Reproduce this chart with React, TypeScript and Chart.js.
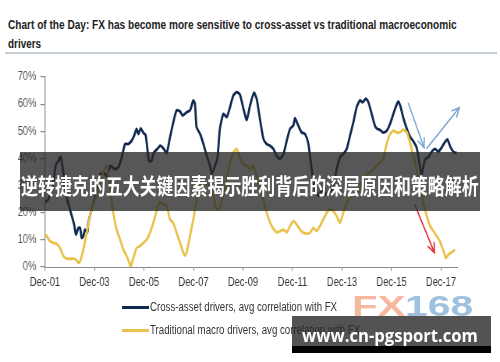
import React, { useEffect, useLayoutEffect, useRef, useState } from 'react';
import { Chart, registerables } from 'chart.js';

Chart.register(...registerables);

// ---------- text ----------
const TITLE_LINE1 = 'Chart of the Day: FX has become more sensitive to cross-asset vs traditional macroeconomic';
const TITLE_LINE2 = 'drivers';
const BANNER_TEXT = '逆转捷克的五大关键因素揭示胜利背后的深层原因和策略解析';
const WATERMARK_LEFT = 'FX';
const WATERMARK_RIGHT = '168';
const SITE_TEXT = 'www.cn-pgsport.com';

// ---------- axes ----------
// x values are months since Dec-01
const xTickLabels = ['Dec-01', 'Dec-03', 'Dec-05', 'Dec-07', 'Dec-09', 'Dec-11', 'Dec-13', 'Dec-15', 'Dec-17'];
const xMonthsPerTick = 24;
const xMax = 200;
const yMin = 0;
const yMax = 70;
const yStep = 10;

const seriesLabels = [
  'Cross-asset drivers, avg correlation with FX',
  'Traditional macro drivers, avg correlation with FX',
];

// ---------- series: cross-asset (navy) ----------
const navyMonths = [
  0, 1.6, 4.0, 5.2, 6.5, 7.6, 8.9, 10.0, 12.1, 14.1,
  15.0, 16.2, 17.0, 17.8, 18.6, 19.4, 20.5, 21.0, 22.6, 25.1,
  26.7, 28.3, 29.9, 31.8, 33.9, 35.6, 37.2, 38.8, 40.4, 42.0,
  43.2, 44.4, 45.3, 46.4, 47.7, 48.8, 50.4, 51.7, 52.8, 54.5,
  55.8, 57.4, 59.0, 60.6, 62.2, 63.8, 65.5, 66.7, 68.7, 70.3,
  71.1, 71.9, 72.7, 73.5, 75.2, 76.8, 78.4, 80.0, 80.8, 82.4,
  83.6, 84.8, 86.5, 88.1, 89.7, 91.3, 92.9, 94.5, 96.2, 97.8,
  99.4, 101.3, 102.6, 104.2, 105.9, 107.5, 109.1, 110.7, 112.3, 113.9,
  115.6, 117.2, 118.8, 120.4, 121.2, 122.8, 124.4, 126.1, 127.7, 129.3,
  130.9, 132.5, 134.1, 136.6, 138.2, 139.8, 141.4, 143.0, 144.6, 146.3,
  147.9, 149.5, 151.1, 152.7, 154.0, 155.6, 156.8, 158.4, 160.0, 161.1,
  162.4, 164.0, 165.7, 167.3, 168.9, 170.5, 171.3, 172.4, 173.7, 175.4,
  177.0, 178.6, 180.2, 181.8, 182.6, 184.2, 185.9, 187.5, 189.1, 190.7,
  192.3, 193.9, 195.1, 196.7, 198.3, 199.6,
];
const navyValues = [
  23.7, 24.9, 30.5, 37.5, 39.1, 40.6, 34.8, 27.4, 21.2, 15.7,
  12.0, 14.4, 14.4, 10.7, 11.4, 13.8, 12.8, 16.3, 21.2, 28.0,
  34.2, 34.8, 33.6, 37.3, 36.0, 36.7, 40.4, 45.3, 45.3, 46.5,
  48.4, 50.9, 49.0, 51.1, 49.4, 48.6, 39.1, 39.1, 42.2, 43.5,
  44.7, 43.7, 42.0, 47.8, 53.3, 57.7, 57.3, 55.8, 57.0, 57.7,
  59.5, 61.4, 60.1, 51.5, 49.0, 45.3, 41.0, 37.3, 34.2, 37.3,
  40.0, 50.9, 56.4, 55.2, 58.9, 63.2, 64.4, 63.5, 58.3, 54.2,
  59.5, 64.2, 62.0, 54.6, 47.2, 45.3, 44.7, 43.5, 41.0, 39.8,
  41.6, 46.5, 50.9, 52.1, 54.8, 52.1, 49.6, 49.0, 45.3, 36.0,
  28.6, 26.2, 28.0, 26.8, 27.4, 29.9, 36.0, 40.4, 41.6, 43.5,
  48.4, 53.3, 58.9, 61.4, 60.7, 62.0, 60.7, 56.4, 52.0, 50.9,
  50.5, 49.5, 50.2, 52.7, 56.4, 59.8, 61.0, 59.0, 55.0, 51.0,
  48.0, 46.3, 44.0, 37.0, 34.0, 39.5, 40.5, 42.5, 43.5, 42.5,
  44.0, 46.0, 47.0, 44.0, 42.2, 42.0,
];

// ---------- series: traditional macro (gold) ----------
const goldMonths = [
  0, 0.8, 2.4, 4.0, 5.7, 7.3, 8.9, 10.5, 12.1, 13.7,
  15.0, 16.2, 17.0, 17.8, 18.6, 20.2, 21.8, 23.4, 25.1, 26.7,
  28.3, 29.9, 30.7, 31.8, 33.1, 34.7, 36.4, 38.0, 39.6, 40.9,
  41.5, 42.8, 44.4, 46.1, 47.7, 49.3, 50.9, 52.5, 54.1, 55.4,
  57.1, 59.0, 60.6, 62.2, 63.8, 65.5, 67.1, 67.9, 69.0, 70.3,
  71.9, 73.5, 75.2, 76.8, 78.4, 80.0, 81.6, 83.2, 84.8, 86.5,
  88.1, 89.7, 91.3, 92.9, 94.5, 96.2, 97.8, 99.4, 101.0, 102.6,
  104.2, 105.9, 107.5, 109.9, 112.3, 113.9, 115.6, 117.2, 118.8, 120.4,
  122.0, 123.6, 125.3, 126.9, 128.5, 130.1, 131.7, 133.3, 134.9, 136.6,
  138.2, 139.8, 141.4, 143.0, 144.6, 146.3, 147.9, 149.5, 151.1, 152.7,
  154.3, 156.0, 157.6, 159.2, 160.8, 162.4, 164.0, 165.7, 167.3, 168.9,
  170.5, 172.1, 173.7, 175.4, 177.0, 178.6, 180.2, 181.8, 183.4, 185.1,
  186.7, 188.3, 189.9, 191.5, 192.3, 193.5, 194.4, 195.6, 197.2, 198.8,
];
const goldValues = [
  12.0, 11.4, 9.5, 8.9, 8.5, 7.0, 4.0, 3.1, 3.0, 3.1,
  2.7, 1.5, 2.1, 4.0, 6.4, 12.6, 18.8, 23.1, 26.2, 31.7,
  35.4, 37.3, 34.2, 27.4, 20.0, 13.8, 10.1, 6.4, 4.0, 1.5,
  0.0, 3.3, 7.0, 7.7, 8.9, 10.1, 12.6, 16.3, 20.6, 23.7,
  23.1, 22.5, 17.5, 16.3, 12.6, 8.9, 5.2, 4.2, 6.4, 11.4,
  17.5, 24.9, 30.5, 31.1, 30.5, 29.9, 26.2, 21.2, 21.9, 26.8,
  32.3, 38.5, 42.2, 43.5, 40.4, 37.9, 37.3, 36.0, 37.3, 33.6,
  29.9, 24.9, 20.0, 15.1, 12.8, 13.2, 13.8, 12.8, 15.1, 16.9,
  15.7, 13.8, 12.6, 12.3, 12.6, 14.4, 13.2, 15.1, 17.5, 20.0,
  21.2, 20.6, 18.8, 16.3, 20.0, 23.7, 25.6, 26.8, 26.2, 29.3,
  32.3, 34.2, 34.8, 36.0, 37.3, 38.5, 40.0, 45.5, 49.0, 50.2,
  49.6, 49.6, 50.6, 49.6, 45.9, 41.0, 36.0, 29.9, 23.7, 18.8,
  15.1, 13.2, 11.4, 9.5, 7.7, 5.2, 3.3, 4.6, 5.4, 6.4,
];

// ---------- annotation arrows (month, value) ----------
const arrowFrom = [[176.2, 60.3], [185.1, 43.7], [179.4, 22.8]];
const arrowTo = [[183.8, 44.0], [200.9, 58.7], [188.8, 5.3]];

// ---------- styles ----------
const NAVY = '#10294f';
const GOLD = '#e8c24a';
const AXIS = '#8a8a8a';
const ARROW_COLORS = ['#7ba3d3', '#7ba3d3', '#e1262c'];
const FONT = '"Liberation Sans", Arial, Helvetica, sans-serif';
const CHART_SCALE = 0.78;
const INNER_W = 500 / CHART_SCALE;

const arrowPlugin = {
  id: 'arrowNotes',
  afterDatasetsDraw(chart: any) {
    const { ctx, scales } = chart;
    const xs = scales.x;
    const ys = scales.y;
    ctx.save();
    ctx.lineWidth = 1.6;
    ctx.lineCap = 'round';
    arrowFrom.forEach((f, i) => {
      const t = arrowTo[i];
      const x0 = xs.getPixelForValue(f[0]);
      const y0 = ys.getPixelForValue(f[1]);
      const x1 = xs.getPixelForValue(t[0]);
      const y1 = ys.getPixelForValue(t[1]);
      ctx.strokeStyle = ARROW_COLORS[i];
      ctx.beginPath();
      ctx.moveTo(x0, y0);
      ctx.lineTo(x1, y1);
      ctx.stroke();
      const a = Math.atan2(y1 - y0, x1 - x0);
      const L = 10;
      ctx.beginPath();
      ctx.moveTo(x1 - L * Math.cos(a - 0.45), y1 - L * Math.sin(a - 0.45));
      ctx.lineTo(x1, y1);
      ctx.lineTo(x1 - L * Math.cos(a + 0.45), y1 - L * Math.sin(a + 0.45));
      ctx.stroke();
    });
    ctx.restore();
  },
};

function FitText(props: { text: string; target: number; style: React.CSSProperties }) {
  const ref = useRef<HTMLSpanElement>(null);
  const [k, setK] = useState(1);
  useLayoutEffect(() => {
    const el = ref.current;
    if (el && el.offsetWidth > 0) setK(props.target / el.offsetWidth);
  }, [props.text, props.target]);
  return (
    <span
      ref={ref}
      style={{
        position: 'absolute',
        whiteSpace: 'nowrap',
        display: 'inline-block',
        transform: `scaleX(${k})`,
        transformOrigin: '0 0',
        ...props.style,
      }}
    >
      {props.text}
    </span>
  );
}

function LineChart() {
  const canvasRef = useRef<HTMLCanvasElement>(null);
  useEffect(() => {
    if (!canvasRef.current) return;
    const chart = new Chart(canvasRef.current, {
      type: 'line',
      data: {
        datasets: [
          {
            label: seriesLabels[1],
            data: goldMonths.map((m, i) => ({ x: m, y: goldValues[i] })),
            borderColor: GOLD,
            backgroundColor: GOLD,
            borderWidth: 2.8,
            pointRadius: 0,
            tension: 0.2,
            order: 0,
          },
          {
            label: seriesLabels[0],
            data: navyMonths.map((m, i) => ({ x: m, y: navyValues[i] })),
            borderColor: NAVY,
            backgroundColor: NAVY,
            borderWidth: 2.8,
            pointRadius: 0,
            tension: 0.2,
            order: 1,
          },
        ],
      },
      options: {
        animation: false,
        responsive: true,
        maintainAspectRatio: false,
        events: [],
        layout: { padding: { left: 0, right: INNER_W - 457.5 / CHART_SCALE, top: 77, bottom: 65 } },
        plugins: { legend: { display: false }, tooltip: { enabled: false }, title: { display: false } },
        scales: {
          x: {
            type: 'linear',
            min: 0,
            max: xMax,
            afterFit: (s: any) => {
              s.height = 30;
            },
            afterBuildTicks: (s: any) => {
              s.ticks = xTickLabels.map((_, i) => ({ value: i * xMonthsPerTick }));
            },
            ticks: {
              autoSkip: false,
              maxRotation: 0,
              padding: 4,
              color: '#333',
              font: { family: FONT, size: 12 },
              callback: (_v: any, i: number) => xTickLabels[i],
            },
            grid: { display: true, drawOnChartArea: false, drawTicks: true, tickLength: 4, color: AXIS },
            border: { display: true, color: AXIS, width: 1 },
          },
          y: {
            min: yMin,
            max: yMax,
            afterFit: (s: any) => {
              s.width = 45 / CHART_SCALE;
            },
            ticks: {
              stepSize: yStep,
              padding: 5,
              color: '#555',
              font: { family: FONT, size: 12 },
              callback: (v: any) => `${v}%`,
            },
            grid: { display: true, drawOnChartArea: false, drawTicks: true, tickLength: 6, color: AXIS, lineWidth: 1.2 },
            border: { display: true, color: AXIS, width: 1.3 },
          },
        },
      },
      plugins: [arrowPlugin],
    });
    return () => chart.destroy();
  }, []);
  return (
    <div
      style={{
        position: 'absolute',
        left: 0,
        top: 0,
        width: INNER_W,
        height: 362,
        transform: `scaleX(${CHART_SCALE})`,
        transformOrigin: '0 0',
      }}
    >
      <canvas ref={canvasRef} />
    </div>
  );
}

export default function App() {
  const textBase: React.CSSProperties = { fontFamily: FONT };
  return (
    <div
      style={{
        position: 'fixed',
        left: 0,
        top: 0,
        width: 500,
        height: 362,
        overflow: 'hidden',
        background: '#fff',
        fontFamily: FONT,
      }}
    >
      <FitText
        text={TITLE_LINE1}
        target={449}
        style={{ ...textBase, left: 8, top: 18, fontSize: 12, lineHeight: '14px', fontWeight: 700, color: '#222' }}
      />
      <FitText
        text={TITLE_LINE2}
        target={33}
        style={{ ...textBase, left: 8, top: 37, fontSize: 12, lineHeight: '14px', fontWeight: 700, color: '#222' }}
      />
      <div style={{ position: 'absolute', left: 5, top: 52, width: 492, height: 2, background: '#c3ced6' }} />

      <LineChart />

      {/* legend */}
      <div style={{ position: 'absolute', left: 122, top: 305.5, width: 27, height: 3, background: NAVY }} />
      <FitText
        text={seriesLabels[0]}
        target={187}
        style={{ ...textBase, left: 150, top: 300, fontSize: 12, lineHeight: '14px', color: '#333' }}
      />
      <div style={{ position: 'absolute', left: 122, top: 328.5, width: 27, height: 3, background: GOLD }} />
      <FitText
        text={seriesLabels[1]}
        target={210}
        style={{ ...textBase, left: 150, top: 322.5, fontSize: 12, lineHeight: '14px', color: '#333' }}
      />

      {/* watermark */}
      <div style={{ position: 'absolute', left: 352, top: 291, width: 125, height: 30 }}>
        <FitText
          text={WATERMARK_LEFT}
          target={53}
          style={{ left: 0, top: 0, fontFamily: FONT, fontWeight: 700, fontSize: 30, lineHeight: '30px', color: '#f6b89e' }}
        />
        <FitText
          text={WATERMARK_RIGHT}
          target={68}
          style={{ left: 53, top: 0, fontFamily: FONT, fontWeight: 700, fontSize: 30, lineHeight: '30px', color: '#9fc1de' }}
        />
      </div>
      <div style={{ position: 'absolute', left: 292, top: 316, width: 199, height: 30, background: 'rgba(40,40,40,0.8)' }} />
      <div style={{ position: 'absolute', left: 292, top: 346, width: 199, height: 7, background: '#000' }} />
      <FitText
        text={SITE_TEXT}
        target={176}
        style={{ left: 302, top: 326.6, fontFamily: '"Open Sans", "DejaVu Sans", sans-serif', fontWeight: 700, fontSize: 17, lineHeight: '17px', color: '#fff' }}
      />

      {/* banner */}
      <div style={{ position: 'absolute', left: 20, top: 152, width: 460, height: 59, background: 'rgba(40,40,40,0.78)' }} />
      <FitText
        text={BANNER_TEXT}
        target={458}
        style={{ left: 20.5, top: 173.5, fontFamily: '"Noto Sans CJK SC", sans-serif', fontWeight: 700, fontSize: 21.8, lineHeight: '22px', color: '#fff' }}
      />
    </div>
  );
}
